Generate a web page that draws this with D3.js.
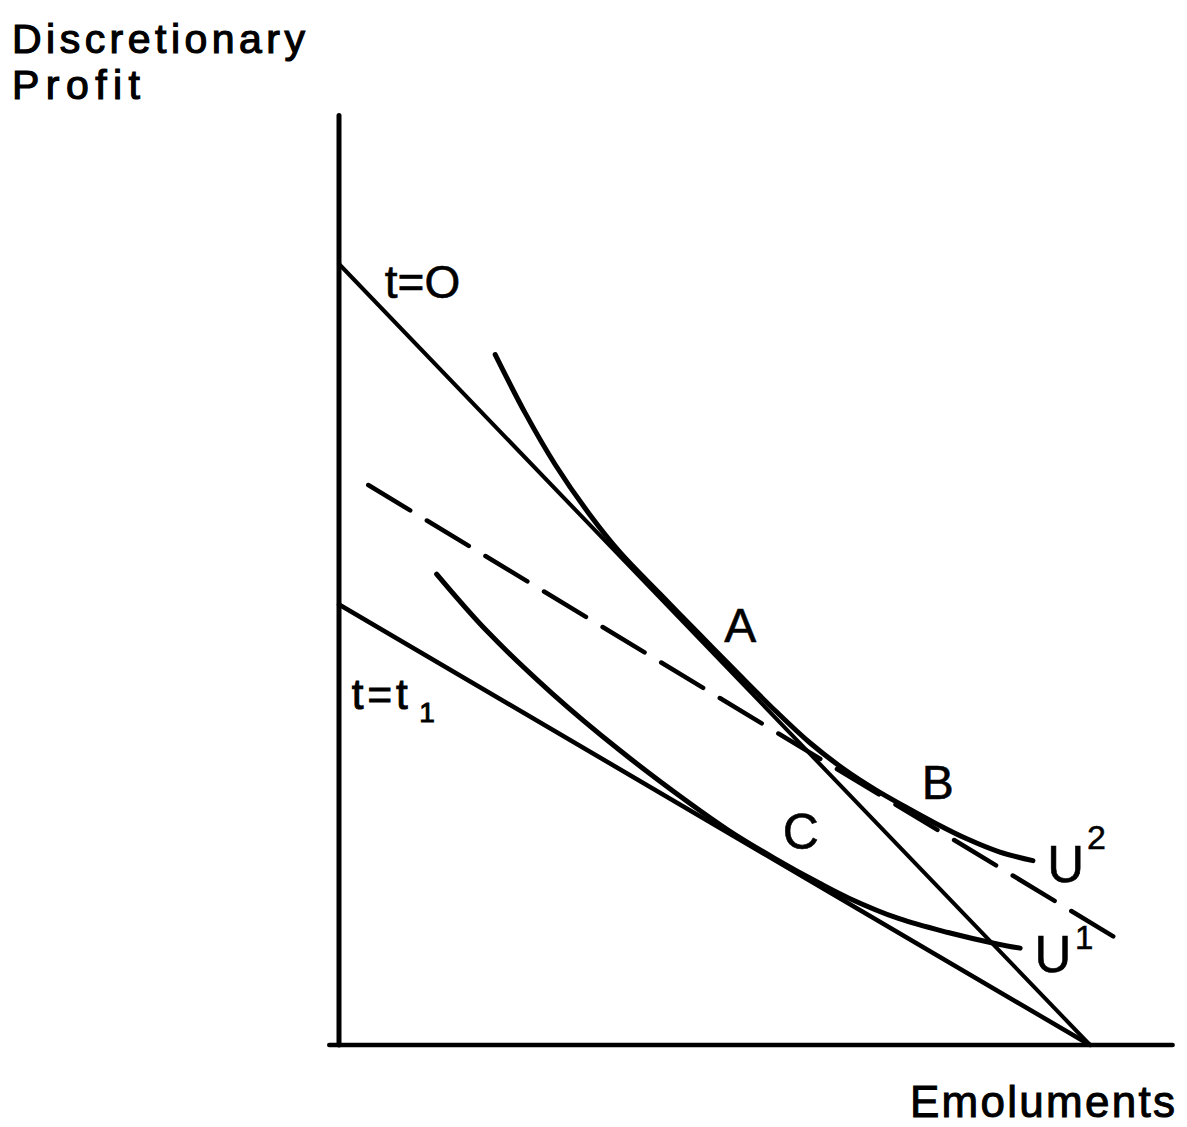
<!DOCTYPE html>
<html>
<head>
<meta charset="utf-8">
<script src="https://cdn.jsdelivr.net/npm/d3@7"></script>
<style>
  body { margin: 0; background: #fff; }
  text { font-family: "Liberation Sans", Arial, sans-serif; fill: #000; }
</style>
</head>
<body>
<div id="chart"></div>
<script>
// Diagram values (arbitrary units, 0..100 on both axes)
var axisX = [[-1.3, 0], [111.0, 0]];
var axisY = [[0, 0], [0, 119.0]];

var budgetT0 = [[0, 100], [100, 0]];     // t = O
var budgetT1 = [[0, 56.4], [100, 0]];    // t = t1
var dashedLine = [[3.9, 71.7], [103.1, 13.9]];

var u2X = [20.8, 24.8, 28.8, 33.4, 37.4, 42.7, 48.1, 53.4, 58.1, 62.7, 67.4, 71.4, 75.4, 79.4, 83.6, 88.0, 92.4];
var u2Y = [88.4, 80.9, 74.3, 67.9, 63.1, 57.8, 52.5, 47.3, 42.8, 38.7, 35.2, 32.7, 30.5, 28.4, 26.4, 24.7, 23.6];

var u1X = [13.0, 19.7, 28.4, 37.3, 46.2, 52.0, 58.0, 64.0, 67.9, 74.5, 81.1, 87.8, 90.7];
var u1Y = [60.3, 53.0, 45.0, 37.8, 31.3, 27.4, 23.9, 20.7, 18.8, 16.2, 14.4, 12.9, 12.4];

// point labels: text and anchor in data units
var pointLabels = [
    { t: "t=O", x: 6.1,  y: 95.6, size: 46 },
    { t: "A",   x: 51.3, y: 51.6, size: 48 },
    { t: "B",   x: 77.6, y: 31.5, size: 48 },
    { t: "C",   x: 59.1, y: 25.1, size: 50 },
    { t: "U",   x: 94.3, y: 20.9, size: 51 },
    { t: "U",   x: 92.6, y: 9.3,  size: 51 }
];

var yTitle = ["Discretionary", "Profit"];

function init() {
    var svgWidth = 1187;
    var svgHeight = 1127;

    var x = d3.scaleLinear().domain([0, 100]).range([339, 1090]);
    var y = d3.scaleLinear().domain([0, 100]).range([1045, 264]);

    var svg = d3.select("#chart")
        .append("svg")
        .attr("width", svgWidth)
        .attr("height", svgHeight);

    var straight = d3.line().x(d => x(d[0])).y(d => y(d[1]));
    var smooth = d3.line().x(d => x(d[0])).y(d => y(d[1])).curve(d3.curveCatmullRom.alpha(0.5));

    function draw(pts, gen, width, dash) {
        var p = svg.append("path")
            .attr("d", gen(pts))
            .attr("fill", "none")
            .attr("stroke", "#000")
            .attr("stroke-width", width)
            .attr("stroke-linecap", "round")
            .attr("stroke-linejoin", "round");
        if (dash) p.attr("stroke-dasharray", dash);
        return p;
    }

    // axes
    draw(axisY, straight, 5);
    draw(axisX, straight, 4.5);

    // budget lines
    draw(budgetT0, straight, 4);
    draw(budgetT1, straight, 4.5);
    draw(dashedLine, straight, 4.5, "49,19.5");

    // indifference curves
    draw(u2X.map((v, i) => [v, u2Y[i]]), smooth, 5);
    draw(u1X.map((v, i) => [v, u1Y[i]]), smooth, 5);

    // labels on the curves
    svg.selectAll("text.pt")
        .data(pointLabels)
        .enter()
        .append("text")
        .attr("class", "pt")
        .attr("x", d => x(d.x))
        .attr("y", d => y(d.y))
        .attr("font-size", d => d.size + "px")
        .attr("stroke", "#000")
        .attr("stroke-width", 0.6)
        .text(d => d.t);

    // superscripts on U
    svg.append("text")
        .attr("x", x(99.6)).attr("y", y(25.1))
        .attr("font-size", "34px")
        .attr("stroke", "#000").attr("stroke-width", 0.5)
        .text("2");
    svg.append("text")
        .attr("x", x(98.0)).attr("y", y(12.3))
        .attr("font-size", "33px")
        .attr("stroke", "#000").attr("stroke-width", 0.5)
        .text("1");

    // t = t1
    svg.append("text")
        .attr("x", x(1.7)).attr("y", y(43.0))
        .attr("font-size", "42px")
        .attr("letter-spacing", "4px")
        .attr("stroke", "#000").attr("stroke-width", 1)
        .text("t=t");
    svg.append("text")
        .attr("x", x(10.7)).attr("y", y(41.4))
        .attr("font-size", "28px")
        .attr("stroke", "#000").attr("stroke-width", 1)
        .text("1");

    // axis titles
    svg.selectAll("text.ytitle")
        .data(yTitle)
        .enter()
        .append("text")
        .attr("class", "ytitle")
        .attr("x", 12)
        .attr("y", (d, i) => 53 + i * 46)
        .attr("font-size", "41px")
        .attr("textLength", (d, i) => i === 0 ? 293 : 128)
        .attr("lengthAdjust", "spacing")
        .attr("stroke", "#000").attr("stroke-width", 1.2)
        .text(d => d);

    svg.append("text")
        .attr("x", 910).attr("y", 1117)
        .attr("font-size", "44px")
        .attr("textLength", 265).attr("lengthAdjust", "spacing")
        .attr("stroke", "#000").attr("stroke-width", 1)
        .text("Emoluments");
}
window.onload = init;
</script>
</body>
</html>
